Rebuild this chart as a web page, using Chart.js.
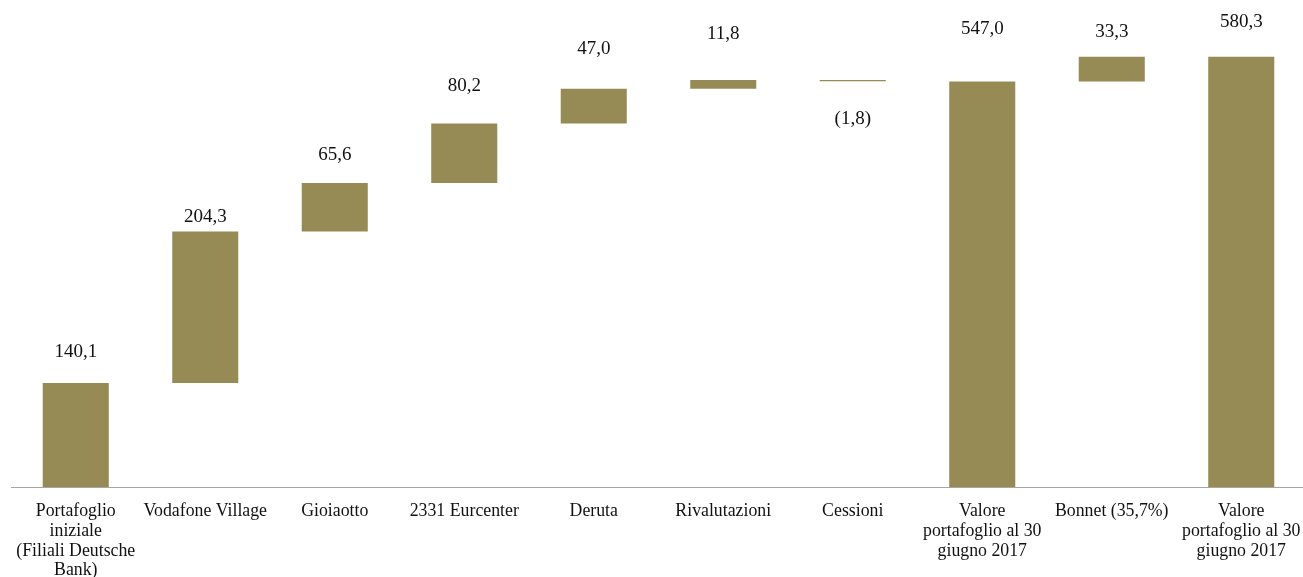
<!DOCTYPE html>
<html>
<head>
<meta charset="utf-8">
<script src="https://cdn.jsdelivr.net/npm/chart.js@4/dist/chart.umd.min.js"></script>
<style>
  html, body { margin: 0; padding: 0; background: #fff; overflow: hidden; }
  #wrap { width: 1306px; height: 577px; }
</style>
</head>
<body>
<div id="wrap"><canvas id="waterfall" width="1306" height="577"></canvas></div>
<script>
// Categorie (etichette asse x, già spezzate su più righe)
const categories = [
  ['Portafoglio', 'iniziale', '(Filiali Deutsche', 'Bank)'],
  'Vodafone Village',
  'Gioiaotto',
  '2331 Eurcenter',
  'Deruta',
  'Rivalutazioni',
  'Cessioni',
  ['Valore', 'portafoglio al 30', 'giugno 2017'],
  'Bonnet (35,7%)',
  ['Valore', 'portafoglio al 30', 'giugno 2017']
];

// Variazioni (null = colonna di totale)
const changes = [140.1, 204.3, 65.6, 80.2, 47.0, 11.8, -1.8, null, 33.3, null];
// Totali dichiarati
const totals = [null, null, null, null, null, null, null, 547.0, null, 580.3];

// distanza etichetta-barra (px), solo per la grafica
const labelGap = [31, 15, 28, 37, 40, 46, 38, 52, 25, 35];

const barColor = '#968B55';
const serif = "'Liberation Serif', 'Times New Roman', serif";

// costruzione barre flottanti
const ranges = [];
const shown = [];
let running = 0;
changes.forEach((c, i) => {
  if (c === null) {
    running = totals[i];
    ranges.push([0, running]);
    shown.push(running);
  } else {
    ranges.push([running, running + c]);
    running += c;
    shown.push(c);
  }
});

function fmt(v) {
  const s = Math.abs(v).toFixed(1).replace('.', ',');
  return v < 0 ? '(' + s + ')' : s;
}

const valueLabels = {
  id: 'valueLabels',
  afterDatasetsDraw(chart) {
    const ctx = chart.ctx;
    const meta = chart.getDatasetMeta(0);
    ctx.save();
    ctx.font = '19px ' + serif;
    ctx.fillStyle = '#111';
    ctx.textAlign = 'center';
    ctx.textBaseline = 'middle';
    meta.data.forEach((bar, i) => {
      const top = Math.min(bar.y, bar.base);
      const bottom = Math.max(bar.y, bar.base);
      const y = shown[i] < 0 ? bottom + labelGap[i] : top - labelGap[i];
      ctx.fillText(fmt(shown[i]), bar.x, y);
    });
    ctx.restore();
  }
};

new Chart(document.getElementById('waterfall'), {
  type: 'bar',
  data: {
    labels: categories,
    datasets: [{
      data: ranges,
      backgroundColor: barColor,
      borderWidth: 0,
      barPercentage: 1,
      categoryPercentage: 0.51
    }]
  },
  options: {
    responsive: false,
    animation: false,
    devicePixelRatio: 1,
    layout: { padding: { left: 11, right: 0, top: 5, bottom: 0 } },
    plugins: { legend: { display: false }, tooltip: { enabled: false } },
    scales: {
      x: {
        grid: { display: false },
        border: { display: true, color: '#A6A6A6', width: 1 },
        ticks: {
          autoSkip: false,
          maxRotation: 0,
          padding: 7,
          color: '#111',
          font: { family: serif, size: 17.8, lineHeight: 1.1 }
        },
        afterFit(scale) {
          scale.height = 90;
          scale.paddingLeft = 0;
          scale.paddingRight = 0;
        }
      },
      y: {
        display: false,
        min: 0,
        max: 650
      }
    }
  },
  plugins: [valueLabels]
});
</script>
</body>
</html>
